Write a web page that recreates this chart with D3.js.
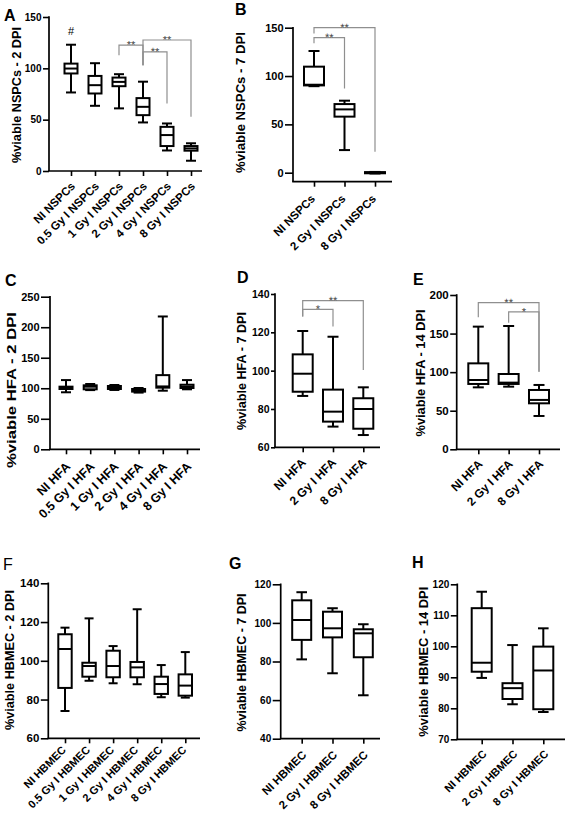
<!DOCTYPE html>
<html><head><meta charset="utf-8">
<script src="https://cdn.jsdelivr.net/npm/d3@7"></script>
<style>
body{margin:0;background:#fff;}
svg{display:block;font-family:"Liberation Sans",Arial,sans-serif;}
</style></head><body>
<svg id="chart" width="567" height="817"></svg>
<script>
// ---------- DATA ----------
const panelLetters = ["A","B","C","D","E","F","G","H"];
const yTitles = ["%viable NSPCs - 2 DPI","%viable NSPCs - 7 DPI","%viable HFA - 2 DPI","%viable HFA - 7 DPI",
  "%viable HFA - 14 DPI","%viable HBMEC - 2 DPI","%viable HBMEC - 7 DPI","%viable HBMEC - 14 DPI"];

const catsA = ["NI NSPCs","0.5 Gy I NSPCs","1 Gy I NSPCs","2 Gy I NSPCs","4 Gy I NSPCs","8 Gy I NSPCs"];
const catsB = ["NI NSPCs","2 Gy I NSPCs","8 Gy I NSPCs"];
const catsC = ["NI HFA","0.5 Gy I HFA","1 Gy I HFA","2 Gy I HFA","4 Gy I HFA","8 Gy I HFA"];
const catsD = ["NI HFA","2 Gy I HFA","8 Gy I HFA"];
const catsE = ["NI HFA","2 Gy I HFA","8 Gy I HFA"];
const catsF = ["NI HBMEC","0.5 Gy I HBMEC","1 Gy I HBMEC","2 Gy I HBMEC","4 Gy I HBMEC","8 Gy I HBMEC"];
const catsG = ["NI HBMEC","2 Gy I HBMEC","8 Gy I HBMEC"];
const catsH = ["NI HBMEC","2 Gy I HBMEC","8 Gy I HBMEC"];

// box stats: [min, q1, median, q3, max]
const statsA = [[76.5,95,99.8,104.6,123],[63.5,75.5,83.6,92.6,105],[61,82.6,86.8,91,94.3],
  [47.3,54.4,62.5,71,87],[20,24.3,35,43,46.3],[10,19.8,22,24.3,27]];
const statsB = [[89.5,90.3,91,109.7,125.9],[23.4,58,65.5,71,74.5],[-0.8,-0.6,0,0.6,0.8]];
const statsC = [[93.4,98.8,100.4,102.6,113.4],[97,98.3,102.6,104.8,107],[97.2,98.8,101.5,103.7,105.3],
  [92.9,94.5,96.5,98.8,100.4],[96,101,103,121.5,217.6],[98.3,100.4,102.6,105.8,113.4]];
const statsD = [[86.8,89,98.4,108.5,120.7],[70.8,73.4,78.6,90.1,117.7],[66.4,69.7,80,85.6,91.3]];
const statsE = [[80.3,84.7,89.8,111.4,159],[81.2,84.7,86.4,97.6,159.8],[43.2,59.6,64,76.9,83.4]];
const statsF = [[74.1,86,106.1,113.7,117.1],[89.7,91.8,97.3,99,121.9],[88.4,91.5,97.3,105.2,107.6],
  [87.9,91.5,96.6,99.4,126.6],[81.2,82.9,88,91.8,97.8],[81,82,87.2,93,104.5]];
const statsG = [[81.1,91.2,101.5,111.7,115.9],[73.9,92.5,97.2,105.8,107.6],[62.5,82.2,94.6,96.7,99.3]];
const statsH = [[89.8,91.8,94.7,112.3,117.6],[81.3,83,86.5,88.1,100.4],[78.8,79.7,92.2,99.9,105.8]];

const domainA = [0,150], domainB = [0,150], domainC = [0,250], domainD = [60,140],
      domainE = [0,200], domainF = [60,140], domainG = [40,120], domainH = [70,120];
const ticksA = [0,50,100,150];
const ticksB = [0,50,100,150];
const ticksC = [0,50,100,150,200,250];
const ticksD = [60,80,100,120,140];
const ticksE = [0,50,100,150,200];
const ticksF = [60,80,100,120,140];
const ticksG = [40,60,80,100,120];
const ticksH = [70,80,90,100,110,120];

// significance brackets: from, to, bar level, left leg end, right leg end, label
const bracketsA = [
  {from:"2 Gy I NSPCs", to:"8 Gy I NSPCs", y:127.6, yl:103, yr:52.8, label:"**"},
  {from:"1 Gy I NSPCs", to:"2 Gy I NSPCs", y:122.7, yl:112.7, yr:103, label:"**"},
  {from:"2 Gy I NSPCs", to:"4 Gy I NSPCs", y:116, yl:103, yr:65.8, label:"**"}];
const bracketsB = [
  {from:"NI NSPCs", to:"8 Gy I NSPCs", y:150, yl:144, yr:21.7, label:"**"},
  {from:"NI NSPCs", to:"2 Gy I NSPCs", y:139.7, yl:133.8, yr:87, label:"**"}];
const bracketsD = [
  {from:"NI HFA", to:"8 Gy I HFA", y:136.5, yl:128.2, yr:100.3, label:"**"},
  {from:"NI HFA", to:"2 Gy I HFA", y:132, yl:128.2, yr:123, label:"*"}];
const bracketsE = [
  {from:"NI HFA", to:"8 Gy I HFA", y:190, yl:171, yr:100.6, label:"**"},
  {from:"2 Gy I HFA", to:"8 Gy I HFA", y:178, yl:164, yr:100.6, label:"*"}];
const hashA = [{cat:"NI NSPCs", y:132.5, label:"#"}];

// ---------- LAYOUT ----------
const layout = [
  {left:49, top:17, bottom:171, axisY:171, x0:71, x1:191, xEnd:202, boxHalf:6.5, capHalf:5, tickLen:6, tickFont:10, xFont:11.5, xdx:2, xdy:13, letterX:4, letterY:21, titleX:21, titleY:95, titleLen:136},
  {left:293, top:27.7, bottom:172.7, axisY:181.7, x0:314, x1:375, xEnd:392, boxHalf:10, capHalf:5.5, tickLen:8, tickFont:11, xFont:11.5, xdx:-1, xdy:15, letterX:235, letterY:15, titleX:245, titleY:102.5, titleLen:141},
  {left:50, top:296.7, bottom:449.3, axisY:449.3, x0:66, x1:187, xEnd:200, boxHalf:6.5, capHalf:5, tickLen:9, tickFont:11, xFont:12.5, xdx:2, xdy:15, letterX:5, letterY:286, titleX:16, titleY:390, titleLen:156},
  {left:275, top:294, bottom:447.3, axisY:447.3, x0:302.7, x1:363.3, xEnd:380, boxHalf:10, capHalf:5.5, tickLen:4, tickFont:10.5, xFont:12, xdx:1, xdy:13, letterX:237, letterY:283, titleX:246, titleY:371, titleLen:118},
  {left:456.7, top:295, bottom:449.3, axisY:449.3, x0:478.3, x1:539, xEnd:560, boxHalf:10, capHalf:5.5, tickLen:6.5, tickFont:11.5, xFont:11.8, xdx:2, xdy:12.5, letterX:413, letterY:285, titleX:425, titleY:373, titleLen:127},
  {left:48.3, top:583.3, bottom:738.3, axisY:738.3, x0:65, x1:185.3, xEnd:200, boxHalf:6.7, capHalf:4.5, tickLen:7.5, tickFont:11.5, xFont:11, xdx:-1, xdy:9.5, letterX:3, letterY:570, letterWeight:"normal", titleX:14, titleY:660, titleLen:140},
  {left:280.7, top:584.3, bottom:738.7, axisY:738.7, x0:301.7, x1:363.3, xEnd:380, boxHalf:9.5, capHalf:5.3, tickLen:8, tickFont:10, xFont:11.5, xdx:2.5, xdy:14, letterX:229, letterY:569, titleX:246, titleY:662.5, titleLen:138},
  {left:457.3, top:584.3, bottom:739.3, axisY:739.3, x0:481.7, x1:543.3, xEnd:565, boxHalf:10, capHalf:5.3, tickLen:6.5, tickFont:10, xFont:11, xdx:3, xdy:12.5, letterX:412, letterY:568, titleX:428, titleY:661.7, titleLen:150}
];

const panels = [
  {cats:catsA, stats:statsA, domain:domainA, ticks:ticksA, brackets:bracketsA, marks:hashA},
  {cats:catsB, stats:statsB, domain:domainB, ticks:ticksB, brackets:bracketsB, marks:[]},
  {cats:catsC, stats:statsC, domain:domainC, ticks:ticksC, brackets:[], marks:[]},
  {cats:catsD, stats:statsD, domain:domainD, ticks:ticksD, brackets:bracketsD, marks:[]},
  {cats:catsE, stats:statsE, domain:domainE, ticks:ticksE, brackets:bracketsE, marks:[]},
  {cats:catsF, stats:statsF, domain:domainF, ticks:ticksF, brackets:[], marks:[]},
  {cats:catsG, stats:statsG, domain:domainG, ticks:ticksG, brackets:[], marks:[]},
  {cats:catsH, stats:statsH, domain:domainH, ticks:ticksH, brackets:[], marks:[]}
];

// ---------- DRAW ----------
const svg = d3.select("#chart");
const SW = 2;

panels.forEach((pd, i) => {
  const p = layout[i];
  const g = svg.append("g");
  const y = d3.scaleLinear().domain(pd.domain).range([p.bottom, p.top]);
  const x = d3.scalePoint().domain(pd.cats).range([p.x0, p.x1]);

  // brackets (behind)
  pd.brackets.forEach(b => {
    const xa = x(b.from), xb = x(b.to);
    g.append("path")
      .attr("d", `M${xa},${y(b.yl)}V${y(b.y)}H${xb}V${y(b.yr)}`)
      .attr("fill","none").attr("stroke","#8f8f8f").attr("stroke-width",1.2);
    const sx = (xa+xb)/2, sy = y(b.y)+3.5;
    g.append("text")
      .attr("transform",`translate(${sx},${sy}) rotate(0.5)`)
      .attr("text-anchor","middle").attr("font-size",11).attr("fill","#444")
      .text(b.label);
  });

  // y axis
  const ya = g.append("g").attr("transform",`translate(${p.left},0)`)
    .call(d3.axisLeft(y).tickValues(pd.ticks).tickSize(p.tickLen).tickPadding(1.5).tickFormat(d3.format("d")));
  ya.select(".domain").remove();
  ya.selectAll("line").attr("stroke","#000").attr("stroke-width",1.6);
  ya.selectAll("text").attr("font-size",p.tickFont).attr("font-weight","bold").attr("fill","#000");
  g.append("line").attr("x1",p.left).attr("x2",p.left).attr("y1",p.top-0.8).attr("y2",p.axisY)
    .attr("stroke","#000").attr("stroke-width",1.7);

  // x axis
  const xa = g.append("g").attr("transform",`translate(0,${p.axisY})`)
    .call(d3.axisBottom(x).tickSize(5).tickSizeOuter(0).tickFormat(""));
  xa.select(".domain").remove();
  xa.selectAll("line").attr("stroke","#000").attr("stroke-width",1.6);
  g.append("line").attr("x1",p.left-0.8).attr("x2",p.xEnd).attr("y1",p.axisY).attr("y2",p.axisY)
    .attr("stroke","#000").attr("stroke-width",1.7);

  g.selectAll(".xl").data(pd.cats).join("text")
    .attr("transform", d => `translate(${x(d)+p.xdx},${p.axisY+p.xdy}) rotate(-45)`)
    .attr("text-anchor","end").attr("dy","0.35em")
    .attr("font-size",p.xFont).attr("font-weight","bold").attr("fill","#000")
    .text(d => d);

  // boxes
  const bx = g.selectAll(".bx").data(pd.stats.map((s,j)=>({c:pd.cats[j], s}))).join("g");
  bx.append("line").attr("x1",d=>x(d.c)).attr("x2",d=>x(d.c))
    .attr("y1",d=>y(d.s[0])).attr("y2",d=>y(d.s[1]));
  bx.append("line").attr("x1",d=>x(d.c)).attr("x2",d=>x(d.c))
    .attr("y1",d=>y(d.s[3])).attr("y2",d=>y(d.s[4]));
  bx.append("line").attr("x1",d=>x(d.c)-p.capHalf).attr("x2",d=>x(d.c)+p.capHalf)
    .attr("y1",d=>y(d.s[0])).attr("y2",d=>y(d.s[0]));
  bx.append("line").attr("x1",d=>x(d.c)-p.capHalf).attr("x2",d=>x(d.c)+p.capHalf)
    .attr("y1",d=>y(d.s[4])).attr("y2",d=>y(d.s[4]));
  bx.append("rect").attr("x",d=>x(d.c)-p.boxHalf).attr("width",2*p.boxHalf)
    .attr("y",d=>y(d.s[3])).attr("height",d=>Math.max(0.5,y(d.s[1])-y(d.s[3])))
    .attr("fill","#fff");
  bx.append("line").attr("x1",d=>x(d.c)-p.boxHalf).attr("x2",d=>x(d.c)+p.boxHalf)
    .attr("y1",d=>y(d.s[2])).attr("y2",d=>y(d.s[2]));
  bx.selectAll("line,rect").attr("stroke","#000").attr("stroke-width",SW);

  // extra marks (#)
  pd.marks.forEach(m => {
    g.append("text").attr("x",x(m.cat)).attr("y",y(m.y)).attr("text-anchor","middle")
      .attr("font-size",11).attr("fill","#000").text(m.label);
  });

  // y title
  g.append("text")
    .attr("transform",`translate(${p.titleX},${p.titleY}) rotate(-90)`)
    .attr("text-anchor","middle").attr("font-size",13).attr("font-weight","bold")
    .attr("textLength",p.titleLen).attr("lengthAdjust","spacingAndGlyphs")
    .attr("fill","#000").text(yTitles[i]);

  // panel letter
  g.append("text").attr("x",p.letterX).attr("y",p.letterY)
    .attr("font-size",16).attr("font-weight",p.letterWeight || "bold").attr("fill","#000")
    .text(panelLetters[i]);
});
</script>
</body></html>
